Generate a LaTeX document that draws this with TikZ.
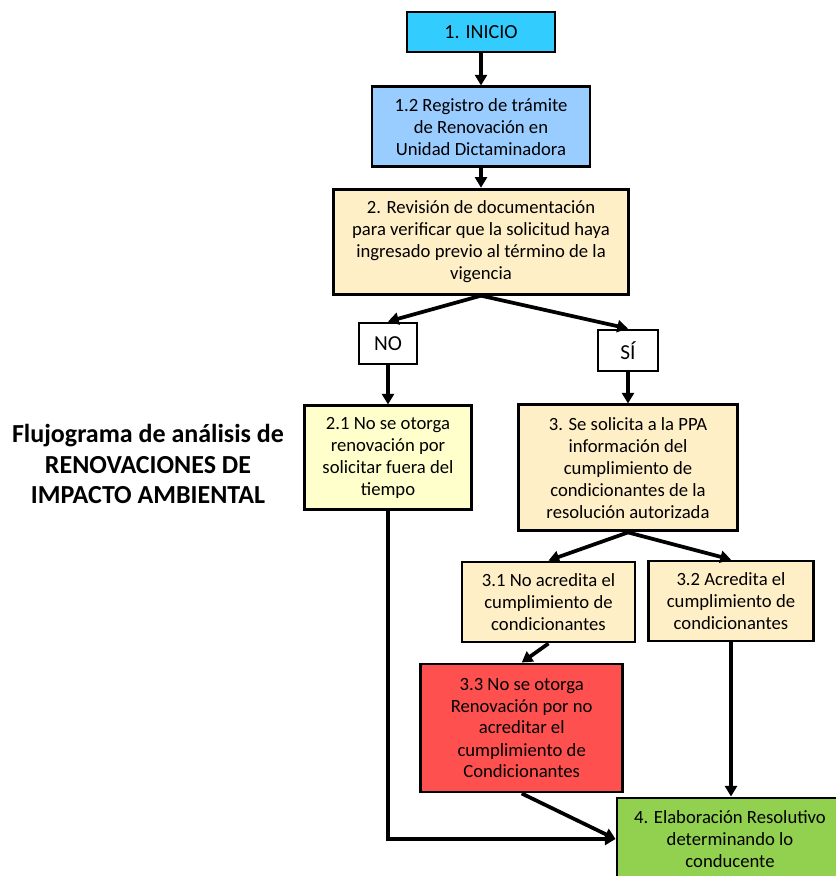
\documentclass[tikz,border=0pt]{standalone}
\usepackage{fontspec}
\setmainfont{Carlito}
\usetikzlibrary{positioning,arrows.meta}
\definecolor{cInicio}{HTML}{33CCFF}
\definecolor{cReg}{HTML}{99CCFF}
\definecolor{cBeige}{HTML}{FFEFC6}
\definecolor{cAmar}{HTML}{FFFFCC}
\definecolor{cRojo}{HTML}{FF5050}
\definecolor{cVerde}{HTML}{92D050}
\tikzset{
    caja/.style={draw=black, line width=2.2pt, align=center, inner sep=0pt,
        font=\fontsize{14}{16.5}\selectfont},
    flecha/.style={line width=2.8pt, -{Triangle[width=9pt,length=8pt]}},
}

\begin{document}
\begin{tikzpicture}[x=0.75pt,y=-0.75pt]
    \useasboundingbox (0,0) rectangle (836,876);
    %% columna central
    \node[caja, fill=cInicio, minimum width=111pt, minimum height=30pt,
        font=\fontsize{15}{18}\selectfont] (inicio) at (481,32) {1. INICIO};
    \node[caja, fill=cReg, minimum width=163.5pt, minimum height=59.5pt,
        below=24pt of inicio] (reg) {1.2 Registro de trámite\\de Renovación en\\Unidad Dictaminadora};
    \node[caja, fill=cBeige, minimum width=221.25pt, minimum height=78.75pt,
        below=15pt of reg] (rev) {2. Revisión de documentación\\para verificar que la solicitud haya\\ingresado previo al término de la\\vigencia};
    %% ramas
    \node[caja, fill=white, minimum width=43.5pt, minimum height=30.75pt,
        font=\fontsize{16}{19}\selectfont] (no) at (388,343.5) {NO};
    \node[caja, fill=white, minimum width=45pt, minimum height=30.75pt,
        font=\fontsize{16}{19}\selectfont] (si) at (628,350.5) {SÍ};
    \node[caja, fill=cAmar, minimum width=125.25pt, minimum height=78pt,
        below=29.25pt of no] (n21) {2.1 No se otorga\\renovación por\\solicitar fuera del\\tiempo};
    \node[caja, fill=cBeige, minimum width=164.25pt, minimum height=94.5pt,
        below=23.25pt of si] (n3) {3. Se solicita a la PPA\\información del\\cumplimiento de\\condicionantes de la\\resolución autorizada};
    \node[caja, fill=cBeige, minimum width=129.75pt, minimum height=60pt]
        (n31) at (548.5,602) {3.1 No acredita el\\cumplimiento de\\condicionantes};
    \node[caja, fill=cBeige, minimum width=123.75pt, minimum height=60pt]
        (n32) at (731,601) {3.2 Acredita el\\cumplimiento de\\condicionantes};
    \node[caja, fill=cRojo, minimum width=151.5pt, minimum height=96pt]
        (n33) at (521.7,728) {3.3 No se otorga\\Renovación por no\\acreditar el\\cumplimiento de\\Condicionantes};
    \node[caja, fill=cVerde, minimum width=169.5pt, minimum height=61.5pt]
        (n4) at (730,839) {4. Elaboración Resolutivo\\determinando lo\\conducente};
    % titulo
    \node[align=center, font=\fontsize{19.5}{23}\selectfont\bfseries]
        (titulo) at (148,464) {Flujograma de análisis de\\RENOVACIONES DE\\IMPACTO AMBIENTAL};
    % conexiones
    \draw[flecha] (inicio) -- (reg);
    \draw[flecha] (reg) -- (rev);
    \draw[flecha] (rev.south) -- (no.north);
    \draw[flecha] (rev.south) -- (si.north);
    \draw[flecha] (no) -- (n21);
    \draw[flecha] (si) -- (n3);
    \draw[flecha] (n3.south) -- (n31.north);
    \draw[flecha] (n3.south) -- (n32.north);
    \draw[flecha] (n31.south) -- (n33.north);
    \draw[flecha] (n32.south) -- (n32.south |- n4.north);
    \draw[flecha] (n33.south) -- (n4.west);
    \draw[flecha] (n21.south) |- (n4.west);
\end{tikzpicture}
\end{document}
